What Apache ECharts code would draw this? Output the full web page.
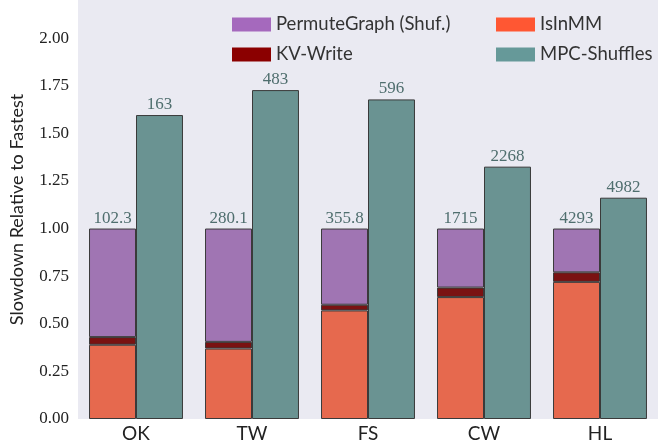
<!DOCTYPE html>
<html>
<head>
<meta charset="utf-8">
<script src="https://cdn.jsdelivr.net/npm/echarts@6/dist/echarts.min.js"></script>
<style>
  html, body { margin: 0; padding: 0; background: #fff; }
  #chart { width: 658px; height: 446px; }
</style>
</head>
<body>
<div id="chart"></div>
<script>
const graphs = ['OK', 'TW', 'FS', 'CW', 'HL'];
// stacked parts of the baseline bar (sum to 1.0)
const isInMM = [0.39, 0.37, 0.57, 0.64, 0.72];
const kvWrite = [0.04, 0.035, 0.03, 0.05, 0.05];
const permuteGraph = [0.57, 0.595, 0.40, 0.31, 0.23];
// MPC-Shuffles relative slowdown
const mpcShuffles = [1.596, 1.727, 1.678, 1.325, 1.162];
// runtime labels on top of bars
const baseLabels = ['102.3', '280.1', '355.8', '1715', '4293'];
const mpcLabels = ['163', '483', '596', '2268', '4982'];

const chart = echarts.init(document.getElementById('chart'));

const edge = { borderColor: '#3a3a3a', borderWidth: 1 };
const topLabel = texts => ({
  show: true,
  position: 'top',
  distance: 2,
  color: '#4f6e6e',
  fontFamily: 'Liberation Serif',
  fontSize: 17,
  formatter: ({ dataIndex }) => texts[dataIndex],
});
const legendText = { color: '#333', fontFamily: 'Lato', fontSize: 18.5 };

chart.setOption({
  animation: false,
  grid: { left: 77, right: -10, top: 0, bottom: 27, backgroundColor: '#EAEAF2', show: true, borderWidth: 0 },
  legend: [
    {
      orient: 'vertical', left: 227, top: 10, itemWidth: 39, itemHeight: 14, itemGap: 11,
      textStyle: legendText,
      data: [
        { name: 'PermuteGraph (Shuf.)', icon: 'rect', itemStyle: { color: '#A569BD', borderWidth: 0 } },
        { name: 'KV-Write', icon: 'rect', itemStyle: { color: '#8B0000', borderWidth: 0 } },
      ],
    },
    {
      orient: 'vertical', left: 491, top: 10, itemWidth: 39, itemHeight: 14, itemGap: 11,
      textStyle: legendText,
      data: [
        { name: 'IsInMM', icon: 'rect', itemStyle: { color: '#FF5733', borderWidth: 0 } },
        { name: 'MPC-Shuffles', icon: 'rect', itemStyle: { color: '#669999', borderWidth: 0 } },
      ],
    },
  ],
  xAxis: {
    type: 'category',
    data: graphs,
    axisLine: { show: false },
    axisTick: { show: false },
    axisLabel: { color: '#222', fontFamily: 'Lato', fontSize: 19, margin: 5 },
  },
  yAxis: {
    type: 'value',
    min: 0,
    max: 2.2,
    interval: 0.25,
    name: 'Slowdown Relative to Fastest',
    nameLocation: 'middle',
    nameGap: 52,
    nameTextStyle: { color: '#222', fontFamily: 'Lato', fontSize: 18 },
    axisLine: { show: false },
    axisTick: { show: false },
    splitLine: { show: false },
    axisLabel: {
      showMaxLabel: false,
      color: '#222', fontFamily: 'Liberation Serif', fontSize: 17, margin: 9,
      formatter: v => (v > 2.01 ? '' : v.toFixed(2)),
    },
  },
  series: [
    {
      name: 'IsInMM', type: 'bar', stack: 'base', barGap: '0%', barCategoryGap: '19%',
      itemStyle: { color: '#E6694E', ...edge }, data: isInMM,
    },
    {
      name: 'KV-Write', type: 'bar', stack: 'base',
      itemStyle: { color: '#7A1212', ...edge }, data: kvWrite,
    },
    {
      name: 'PermuteGraph (Shuf.)', type: 'bar', stack: 'base',
      itemStyle: { color: '#A075B3', ...edge }, data: permuteGraph,
      label: topLabel(baseLabels),
    },
    {
      name: 'MPC-Shuffles', type: 'bar',
      itemStyle: { color: '#6A9392', ...edge }, data: mpcShuffles,
      label: topLabel(mpcLabels),
    },
  ],
});
</script>
</body>
</html>
